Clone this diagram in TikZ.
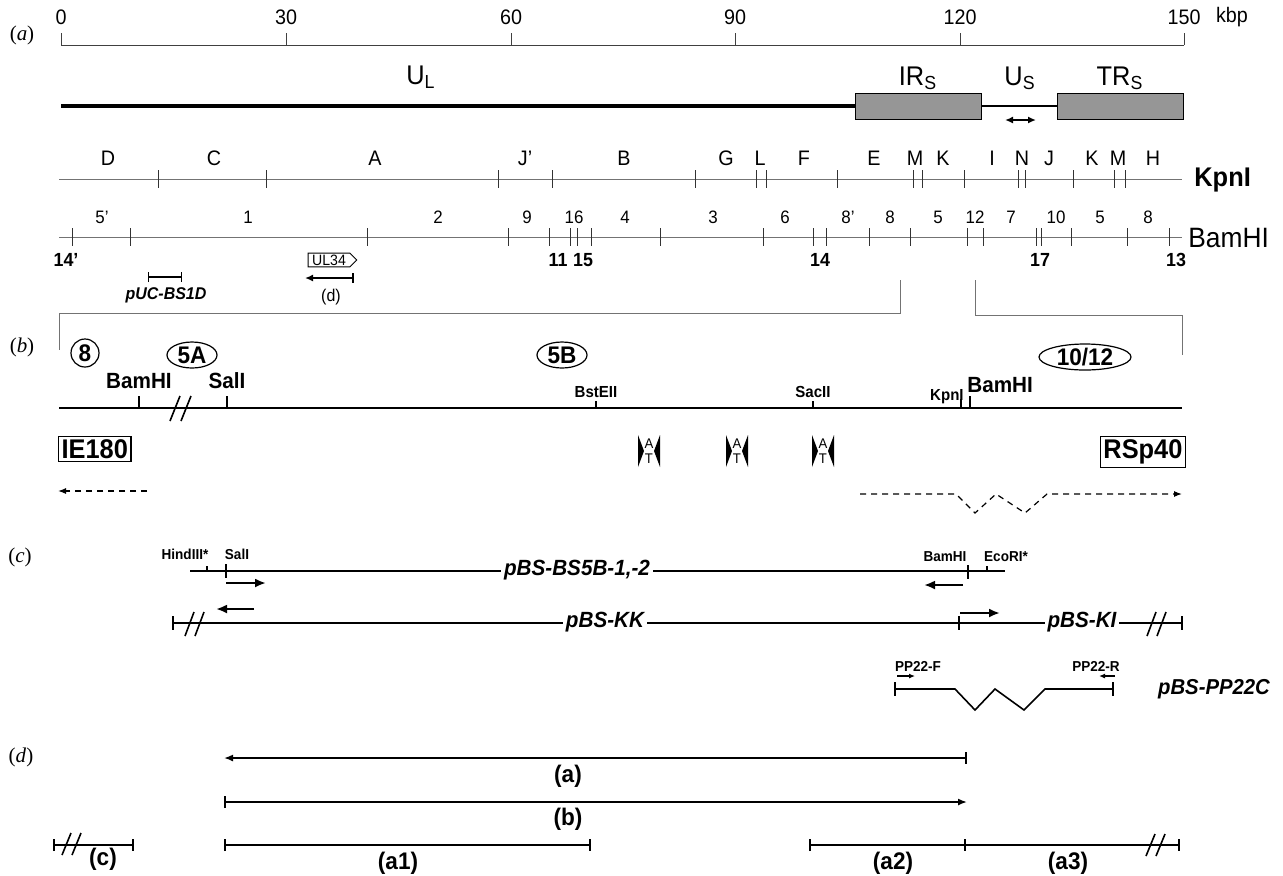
\documentclass[tikz,border=0pt]{standalone}
\usepackage{fontspec}
\setmainfont{Liberation Sans}[FakeStretch=0.94]
\newfontfamily\panelfont{Liberation Serif}
\usetikzlibrary{arrows.meta, shapes.geometric, shapes.symbols, positioning}
\definecolor{mapGray}{RGB}{115,115,115}
\definecolor{repeatFill}{RGB}{150,150,150}

\begin{document}
\begin{tikzpicture}[
    x=0.5pt, y=-0.5pt,
    every node/.style={inner sep=1pt},
    panel/.style={font=\panelfont\fontsize{10.5}{12}\selectfont},
    scalelab/.style={font=\fontsize{10.5}{12}\selectfont},
    region/.style={font=\fontsize{13.5}{15}\selectfont},
    fraglab/.style={font=\fontsize{10.5}{12}\selectfont},
    bamtop/.style={font=\fontsize{9}{10}\selectfont},
    bambot/.style={font=\bfseries\fontsize{9.5}{11}\selectfont},
    enzyme/.style={font=\fontsize{14}{16}\selectfont, anchor=west},
    sitelab/.style={font=\bfseries\fontsize{11}{13}\selectfont},
    smallsite/.style={font=\bfseries\fontsize{8}{9}\selectfont},
    tinysite/.style={font=\bfseries\fontsize{7.2}{8}\selectfont},
    clonelab/.style={font=\bfseries\itshape\fontsize{11}{13}\selectfont, fill=white, inner xsep=1.5pt},
    seglab/.style={font=\bfseries\fontsize{12}{14}\selectfont},
    promoter/.style={draw, line width=0.6pt, font=\bfseries\fontsize{13.5}{15}\selectfont, inner sep=1.5pt},
    circled/.style={circle, draw, line width=0.6pt, font=\bfseries\fontsize{12}{13}\selectfont, inner sep=0pt, minimum size=14pt},
    oval/.style={ellipse, draw, line width=0.6pt, font=\bfseries\fontsize{12}{13}\selectfont, inner sep=0pt, minimum height=13pt},
    repeatbox/.style={draw, line width=0.5pt, fill=repeatFill, minimum width=63pt, minimum height=13pt, inner sep=0pt},
    genebox/.style={signal, signal to=east, draw, line width=0.5pt, font=\fontsize{7.5}{8}\selectfont, inner xsep=2pt, inner ysep=0.8pt},
    genome/.style={line width=1.6pt},
    thinline/.style={draw=mapGray, line width=0.45pt},
    mainline/.style={line width=0.9pt},
    cloneline/.style={line width=0.8pt},
    breakmark/.style={line width=0.8pt},
    primer/.style={-{Latex[length=5.5pt, width=4.5pt]}, line width=1.1pt},
    smallprimer/.style={-{Latex[length=3pt, width=2.5pt]}, line width=0.6pt},
    dasharrow/.style={dash pattern=on 3pt off 2.5pt, -{Latex[length=4pt, width=3pt]}, line width=0.6pt},
    mapspan/.style={line width=0.8pt},
    atsite/.pic={
        \fill (-11,-16) -- (-11,16) -- (-5,0) -- cycle;
        \fill (11,-16) -- (11,16) -- (5,0) -- cycle;
        \node[font=\fontsize{7}{7}\selectfont, inner sep=0pt] (-A) at (0,-7) {A};
        \node[font=\fontsize{7}{7}\selectfont, inner sep=0pt] (-T) at (0,8) {T};
    }
]
\useasboundingbox (0,0) rectangle (1283,875);

% (a) genome scale
\node[panel] (pa) at (22,35) {(\textit{a})};
\draw[thinline, draw=black!75] (61,45) -- (1184,45);
\foreach \x/\kb in {61/0, 286/30, 511/60, 735/90, 960/120, 1184/150} {
    \draw[thinline, draw=black!75] (\x,45) -- (\x,33);
    \node[scalelab] (kb\kb) at (\x,17) {\kb};
}
\node[scalelab] (kbp) at (1232,17) {kbp};

% genome regions
\node[repeatbox] (IRs) at (918,106) {};
\node[repeatbox] (TRs) at (1120.5,106) {};
\draw[genome] (61,106) -- (IRs.west);
\draw[line width=1pt] (IRs.east) -- (TRs.west);
\coordinate (usL) at (1005,120);
\coordinate (usR) at (1036,120);
\draw[{Latex[length=4pt, width=3.5pt]}-{Latex[length=4pt, width=3.5pt]}, line width=0.8pt] (usL) -- (usR);
\node[region] (UL) at (421,77) {U\textsubscript{L}};
\node[region] (IRlab) at (918,78) {IR\textsubscript{S}};
\node[region] (USlab) at (1020,78) {U\textsubscript{S}};
\node[region] (TRlab) at (1120,78) {TR\textsubscript{S}};

% KpnI map
\draw[thinline] (59,179) -- (1182,179);
\foreach \x in {158,266,498,552,695,756,766,837,913,922,964,1018,1025,1073,1114,1125}
    \draw[thinline, draw=black!80] (\x,170) -- (\x,188);
\foreach \x/\f [count=\i] in {108/D, 214/C, 375/A, 525/J', 624/B, 726/G, 760/L, 804/F, 874/E, 915/M, 943/K, 992/I, 1022/N, 1049/J, 1092/K, 1118/M, 1153/H}
    \node[fraglab] (kpn\i) at (\x,158) {\f};
\node[enzyme, font=\bfseries\fontsize{13.5}{15}\selectfont] (kpnlab) at (1192,180) {KpnI};

% BamHI map
\draw[thinline] (59,237) -- (1182,237);
\foreach \x in {72,130,367,508,549,570,577,591,660,763,813,826,869,910,967,983,1036,1041,1071,1127,1169}
    \draw[thinline, draw=black!80] (\x,228) -- (\x,246);
\foreach \x/\f [count=\i] in {102/5', 248/1, 438/2, 527/9, 574/16, 625/4, 713/3, 785/6, 848/8', 890/8, 938/5, 975/12, 1011/7, 1056/10, 1100/5, 1148/8}
    \node[bamtop] (bam\i) at (\x,217) {\f};
\foreach \x/\f [count=\i] in {66/14', 558/11, 583/15, 820/14, 1040/17, 1176/13}
    \node[bambot] (bamb\i) at (\x,260) {\f};
\node[enzyme] (bamlab) at (1186,238) {BamHI};

% UL34 and probe
\node[genebox] (UL34) at (329,260) {UL34};
\coordinate (dL) at (305,278);
\coordinate (dR) at (354,278);
\draw[{Latex[length=4pt, width=3.5pt]}-{Bar[width=5pt]}, line width=0.8pt] (dL) -- (dR);
\node[font=\fontsize{8.5}{10}\selectfont] (dlab) at (331,297) {(d)};
\coordinate (pucL) at (148,277);
\coordinate (pucR) at (182,277);
\draw[{Bar[width=5pt]}-{Bar[width=5pt]}, line width=0.7pt] (pucL) -- (pucR);
\node[font=\bfseries\itshape\fontsize{8.5}{10}\selectfont] (puc) at (166,295) {pUC-BS1D};

% expansion bracket
\draw[thinline] (900,280) -- (900,313) -- (59,313) -- (59,350);
\draw[thinline] (975,280) -- (975,315) -- (1182,315) -- (1182,355);

% (b) enhancer region
\node[panel] (pb) at (22,347) {(\textit{b})};
\node[circled] (f8) at (85,353) {8};
\node[oval, minimum width=25pt] (f5A) at (192,355) {5A};
\node[oval, minimum width=25pt] (f5B) at (562,355) {5B};
\node[oval, minimum width=46pt] (f1012) at (1085,357) {10/12};
\draw[mainline] (59,408) -- (1182,408);
\draw[breakmark] (170,421) -- (180,396);
\draw[breakmark] (181,421) -- (191,396);
\draw[mainline] (139,396) -- (139,408);
\draw[mainline] (227,396) -- (227,408);
\draw[mainline] (596,401) -- (596,408);
\draw[mainline] (813,401) -- (813,408);
\draw[mainline] (961,399) -- (961,408);
\draw[mainline] (970,396) -- (970,408);
\node[sitelab] (bamB1) at (139,381) {BamHI};
\node[sitelab] (salB) at (227,381) {SalI};
\node[smallsite] (bstB) at (596,392) {BstEII};
\node[smallsite] (sacB) at (813,392) {SacII};
\node[smallsite, anchor=east] (kpnB) at (966,397) {KpnI};
\node[sitelab, anchor=west] (bamB2) at (965,385) {BamHI};
\node[promoter, anchor=west] (IE180) at (58,449) {IE180};
\node[promoter, anchor=east] (RSp40) at (1186,452) {RSp40};
\pic (at1) at (649,451) {atsite};
\pic (at2) at (737,451) {atsite};
\pic (at3) at (823,451) {atsite};
\coordinate (ieS) at (147,491);
\coordinate (ieE) at (58,491);
\draw[dasharrow] (ieS) -- (ieE);
\coordinate (rsS) at (860,494);
\coordinate (rsE) at (1182,494);
\draw[dasharrow] (rsS) -- (956,494) -- (975,513) -- (996,494) -- (1025,513) -- (1047,494) -- (rsE);

% (c) plasmids
\node[panel] (pc) at (20,557) {(\textit{c})};
\draw[cloneline] (190,571) -- (1005,571);
\draw[line width=0.6pt] (207,566) -- (207,571);
\draw[cloneline] (226,564) -- (226,578);
\draw[cloneline] (968,565) -- (968,579);
\draw[line width=0.6pt] (987,566) -- (987,571);
\node[clonelab] (bs5b) at (577,570) {pBS-BS5B-1,-2};
\node[tinysite] (hind) at (185,554) {HindIII*};
\node[tinysite] (salC) at (237,554) {SalI};
\node[tinysite] (bamC) at (945,557) {BamHI};
\node[tinysite] (ecoC) at (1006,557) {EcoRI*};
\coordinate (p1s) at (226,583);
\coordinate (p1e) at (266,583);
\draw[primer] (p1s) -- (p1e);
\coordinate (p2s) at (963,585);
\coordinate (p2e) at (924,585);
\draw[primer] (p2s) -- (p2e);

\draw[cloneline] (173,616) -- (173,630);
\draw[cloneline] (173,623) -- (1182,623);
\draw[cloneline] (1182,616) -- (1182,630);
\draw[breakmark] (185,636) -- (194,612);
\draw[breakmark] (195,636) -- (204,612);
\draw[breakmark] (1147,636) -- (1156,612);
\draw[breakmark] (1157,636) -- (1166,612);
\draw[cloneline] (959,616) -- (959,630);
\node[clonelab] (kk) at (605,622) {pBS-KK};
\node[clonelab] (ki) at (1082,622) {pBS-KI};
\coordinate (p3s) at (254,609);
\coordinate (p3e) at (216,609);
\draw[primer] (p3s) -- (p3e);
\coordinate (p4s) at (960,613);
\coordinate (p4e) at (1000,613);
\draw[primer] (p4s) -- (p4e);

\draw[cloneline] (895,682) -- (895,696);
\draw[cloneline] (895,689) -- (955,689) -- (975,710) -- (995,689) -- (1024,710) -- (1045,689) -- (1113,689);
\draw[cloneline] (1113,682) -- (1113,696);
\node[tinysite] (ppF) at (918,666) {PP22-F};
\node[tinysite] (ppR) at (1096,666) {PP22-R};
\coordinate (p5s) at (897,676);
\coordinate (p5e) at (915,676);
\draw[smallprimer] (p5s) -- (p5e);
\coordinate (p6s) at (1115,676);
\coordinate (p6e) at (1099,676);
\draw[smallprimer] (p6s) -- (p6e);
\node[clonelab, fill=none, font=\bfseries\itshape\fontsize{10.8}{13}\selectfont] (pp22c) at (1214,689) {pBS-PP22C};

% (d) probes and transcripts
\node[panel] (pd) at (21,757) {(\textit{d})};
\coordinate (aL) at (224,758);
\coordinate (aR) at (967,758);
\draw[mapspan, {Latex[length=4.5pt, width=3.5pt]}-{Bar[width=6pt]}] (aL) -- (aR);
\node[seglab] (la) at (568,776) {(a)};
\coordinate (bL) at (224,802);
\coordinate (bR) at (967,802);
\draw[mapspan, {Bar[width=6pt]}-{Latex[length=4.5pt, width=3.5pt]}] (bL) -- (bR);
\node[seglab] (lb) at (568,819) {(b)};
\coordinate (cL) at (53,845);
\coordinate (cR) at (134,845);
\draw[mapspan, {Bar[width=6pt]}-{Bar[width=6pt]}] (cL) -- (cR);
\draw[breakmark] (62,855) -- (71,833);
\draw[breakmark] (72,855) -- (81,833);
\node[seglab] (lc) at (103,859) {(c)};
\coordinate (a1L) at (224,845);
\coordinate (a1R) at (591,845);
\draw[mapspan, {Bar[width=6pt]}-{Bar[width=6pt]}] (a1L) -- (a1R);
\node[seglab] (la1) at (398,863) {(a1)};
\coordinate (a2L) at (809,845);
\coordinate (a2R) at (966,845);
\coordinate (a3R) at (1180,845);
\draw[mapspan, {Bar[width=6pt]}-{Bar[width=6pt]}] (a2L) -- (a2R);
\draw[mapspan, -{Bar[width=6pt]}] (a2R) -- (a3R);
\draw[breakmark] (1146,856) -- (1155,834);
\draw[breakmark] (1156,856) -- (1165,834);
\node[seglab] (la2) at (893,863) {(a2)};
\node[seglab] (la3) at (1068,863) {(a3)};
\end{tikzpicture}
\end{document}
